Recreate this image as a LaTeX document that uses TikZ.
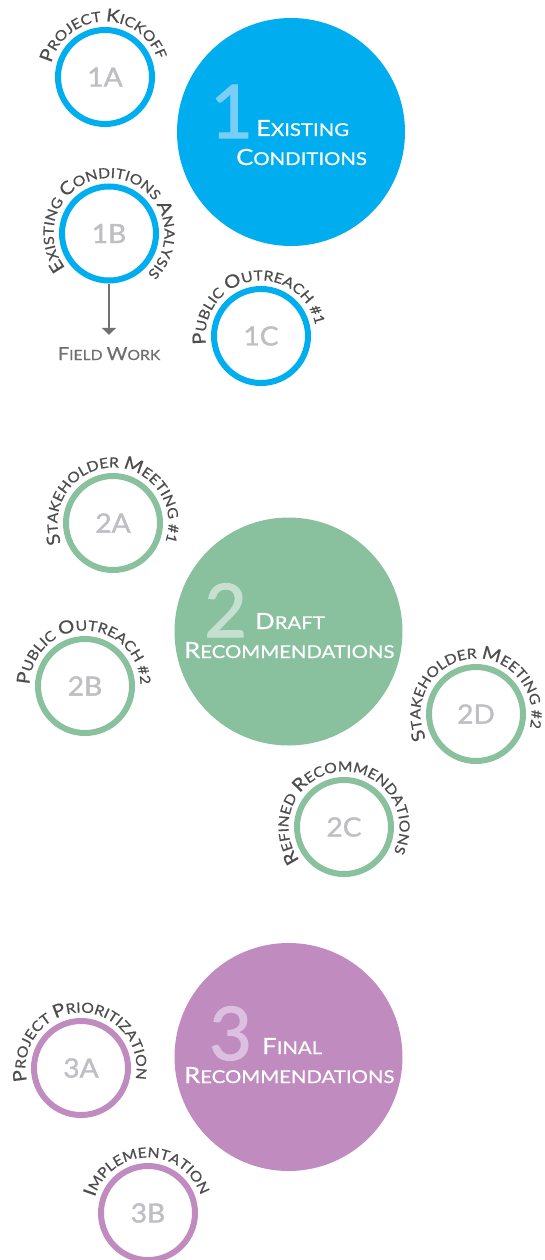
\documentclass[tikz,border=0pt]{standalone}
\usepackage{fontspec}
\setmainfont{Lato}[FakeStretch=1.12,FakeBold=0.6]
\newfontfamily\titlefam{Lato}[FakeStretch=1.15,FakeBold=0.6]
\newfontfamily\numfam{Lato}[FakeStretch=1.06,FakeBold=1.4]
\newfontfamily\digfam{Lato}[FakeBold=1.4]
\usetikzlibrary{decorations.text,arrows.meta,calc}

% palette
\definecolor{cblue}{RGB}{0,174,239}
\definecolor{cgreen}{RGB}{137,192,158}
\definecolor{cpurple}{RGB}{192,140,192}
\definecolor{dblue}{RGB}{122,206,245}
\definecolor{dgreen}{RGB}{198,224,208}
\definecolor{dpurple}{RGB}{221,192,225}
\definecolor{numgray}{RGB}{190,190,195}
\definecolor{lblgray}{RGB}{77,77,77}
\definecolor{fwgray}{RGB}{112,112,112}

% faux small caps: capital size / lowered size
\newcommand\tbig{\fontsize{22.3}{24}\selectfont}
\newcommand\tsml{\fontsize{17.7}{20}\selectfont}
\newcommand\lbig{\fontsize{18}{20}\selectfont}
\newcommand\lsml{\fontsize{14}{16}\selectfont}
\newcommand\numfont{\numfam\fontsize{26.5}{28}\selectfont}
\newcommand\digfont{\digfam\fontsize{74}{74}\selectfont}

% label set on an arc above a ring, centred on a given angle
\newcommand\arclabel[3]{%
  \path[decorate,decoration={text along path,text align=center,
    text color=lblgray,text={#3}}]
    ($(#1.center)+(#2+160:55.5pt)$)
    arc[start angle=#2+160,end angle=#2-160,radius=55.5pt];}

\begin{document}
\begin{tikzpicture}[x=1pt,y=1pt,
  ring/.style={circle,draw=#1,line width=6pt,minimum size=94pt,
    inner sep=0pt,text=numgray,font=\numfont},
  phase/.style={circle,fill=#1,minimum size=228pt,inner sep=0pt},
  digit/.style={anchor=base west,inner sep=0pt,text=#1,font=\digfont},
  title/.style={anchor=base west,inner sep=0pt,text=white,font=\titlefam},
  arrowline/.style={draw=fwgray,line width=1.2pt,
    -{Triangle[width=14pt,length=7pt]}}]
\useasboundingbox (0,0) rectangle (545,-1260);

% ---- phase 1 ----
\node[phase=cblue] (p1) at (291,-132) {};
\node[digit=dblue] (d1) at (210,-138) {1};
\node[title] (t1a) at (256,-136) {\tbig E\tsml XISTING};
\node[title] (t1b) at (236,-165) {\tbig C\tsml ONDITIONS};

\node[ring=cblue] (r1a) at (105,-77) {1A};
\node[ring=cblue] (r1b) at (109,-233.5) {1B};
\node[ring=cblue] (r1c) at (261,-336) {1C};

\arclabel{r1a}{92}{|\lbig|P|\lsml|ROJECT |\lbig|K|\lsml|ICKOFF}
\arclabel{r1b}{86}{|\lbig|E|\lsml|XISTING |\lbig|C|\lsml|ONDITIONS |\lbig|A|\lsml|NALYSIS}
\arclabel{r1c}{100}{|\lbig|P|\lsml|UBLIC |\lbig|O|\lsml|UTREACH {\#}1}

\node[anchor=base,inner sep=0pt,text=fwgray] (fw) at (109,-360)
  {\lbig F\lsml IELD \lbig W\lsml ORK};
\draw[arrowline,shorten >=12pt] (r1b.south) -- (fw.north);

% ---- phase 2 ----
\node[phase=cgreen] (p2) at (288.5,-631.5) {};
\node[digit=dgreen] (d2) at (204,-637) {2};
\node[title] (t2a) at (255,-629) {\tbig D\tsml RAFT};
\node[title] (t2b) at (184,-658) {\tbig R\tsml ECOMMENDATIONS};

\node[ring=cgreen] (r2a) at (113,-523) {2A};
\node[ring=cgreen] (r2b) at (85,-686) {2B};
\node[ring=cgreen] (r2c) at (344,-827) {2C};
\node[ring=cgreen] (r2d) at (476,-714) {2D};

\arclabel{r2a}{91}{|\lbig|S|\lsml|TAKEHOLDER |\lbig|M|\lsml|EETING {\#}1}
\arclabel{r2b}{90}{|\lbig|P|\lsml|UBLIC |\lbig|O|\lsml|UTREACH {\#}2}
\arclabel{r2c}{95}{|\lbig|R|\lsml|EFINED |\lbig|R|\lsml|ECOMMENDATIONS}
\arclabel{r2d}{96}{|\lbig|S|\lsml|TAKEHOLDER |\lbig|M|\lsml|EETING {\#}2}

% ---- phase 3 ----
\node[phase=cpurple] (p3) at (288.5,-1057) {};
\node[digit=dpurple] (d3) at (209,-1060) {3};
\node[title] (t3a) at (262,-1054) {\tbig F\tsml INAL};
\node[title] (t3b) at (184,-1083) {\tbig R\tsml ECOMMENDATIONS};

\node[ring=cpurple] (r3a) at (81,-1068) {3A};
\node[ring=cpurple] (r3b) at (148,-1213) {3B};

\arclabel{r3a}{91}{|\lbig|P|\lsml|ROJECT |\lbig|P|\lsml|RIORITIZATION}
\arclabel{r3b}{91}{|\lbig|I|\lsml|MPLEMENTATION}
\end{tikzpicture}
\end{document}
